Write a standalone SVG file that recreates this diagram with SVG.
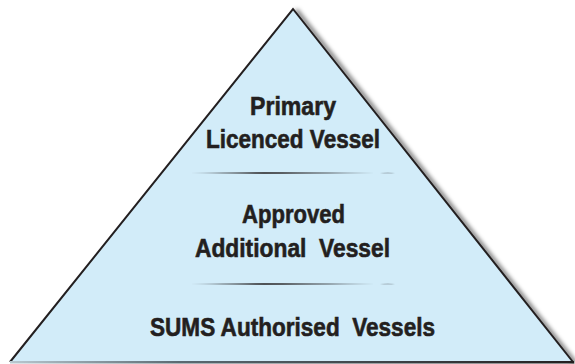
<svg xmlns="http://www.w3.org/2000/svg" width="575" height="364" viewBox="0 0 575 364">
<defs>
<filter id="blur" x="-20%" y="-20%" width="140%" height="140%"><feGaussianBlur stdDeviation="2"/></filter>
<linearGradient id="base" x1="0" y1="0" x2="1" y2="0">
<stop offset="0" stop-color="#b8c8d0"/><stop offset="0.3" stop-color="#5a6a72"/><stop offset="1" stop-color="#231f20"/>
</linearGradient>
<linearGradient id="sep" x1="0" y1="0" x2="1" y2="0">
<stop offset="0" stop-color="#231f20" stop-opacity="0.3"/><stop offset="0.4" stop-color="#231f20"/><stop offset="1" stop-color="#231f20" stop-opacity="0.5"/>
</linearGradient>
<style>
text{font-family:"Liberation Sans",Arial,sans-serif;font-weight:bold;font-size:25.5px;fill:#231f20;stroke:#231f20;stroke-width:0.6;text-anchor:middle}
.edge{stroke:#231f20;stroke-width:2;fill:none}
</style>
</defs>
<g id="pyramid">
<path d="M296 10 L576 364" stroke="#000" stroke-opacity="0.55" stroke-width="4" fill="none" filter="url(#blur)"/>
<polygon points="293,9 573,362 10,362" fill="#d2ecf9"/>
<path class="edge" d="M10 362 L293 9 L573 362"/>
<rect x="10" y="361" width="564" height="2.5" fill="url(#base)"/>
</g>
<g id="connectors">
<path d="M190 173 Q282 171.6 375 173 Q282 174.4 190 173 Z" fill="url(#sep)"/>
<path d="M380 173 Q388 172.4 395 173 Q388 173.6 380 173 Z" fill="#231f20" fill-opacity="0.6"/>
<path d="M190 284 Q282 282.6 375 284 Q282 285.4 190 284 Z" fill="url(#sep)"/>
<path d="M380 284 Q388 283.4 395 284 Q388 284.6 380 284 Z" fill="#231f20" fill-opacity="0.6"/>
</g>
<g id="tier1">
<text x="293" y="115" textLength="86" lengthAdjust="spacingAndGlyphs">Primary</text>
<text x="293" y="148" textLength="174" lengthAdjust="spacingAndGlyphs">Licenced Vessel</text>
</g>
<g id="tier2">
<text x="293.5" y="223" textLength="103" lengthAdjust="spacingAndGlyphs">Approved</text>
<text x="292.5" y="257" textLength="195" lengthAdjust="spacingAndGlyphs" xml:space="preserve">Additional  Vessel</text>
</g>
<g id="tier3">
<text x="292.5" y="336" textLength="285" lengthAdjust="spacingAndGlyphs" xml:space="preserve">SUMS Authorised  Vessels</text>
</g>
</svg>
